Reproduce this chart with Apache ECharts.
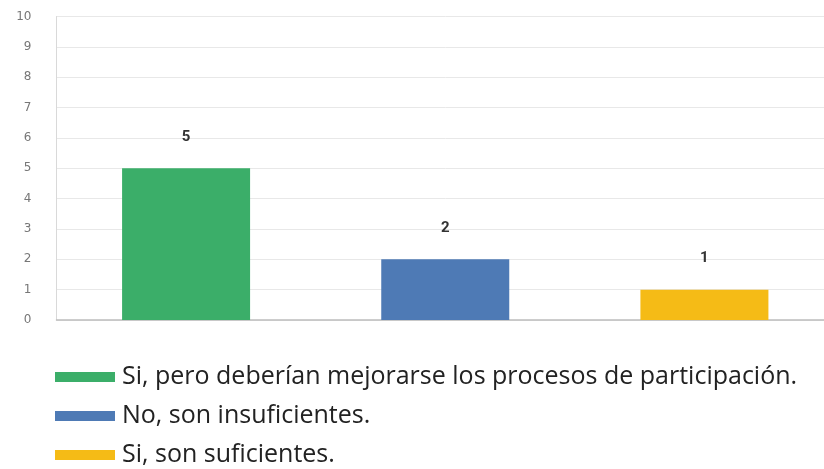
<!DOCTYPE html>
<html>
<head>
<meta charset="utf-8">
<script src="https://cdn.jsdelivr.net/npm/echarts@6/dist/echarts.min.js"></script>
<style>
  html, body { margin: 0; padding: 0; background: #fff; overflow: hidden; }
  /* el gráfico original está recortado por la derecha */
  #chart { width: 834px; height: 469px; }
</style>
</head>
<body>
<div id="chart"></div>
<script>
// datos del gráfico
const categories = ["Si, pero deberían mejorarse los procesos de participación.", "No, son insuficientes.", "Si, son suficientes."];
const values = [5, 2, 1];
const colors = ["#3bae69", "#4e7ab5", "#f5bb16"];
const yTicks = [0, 1, 2, 3, 4, 5, 6, 7, 8, 9, 10];

let chart = echarts.init(document.getElementById("chart"));

// una serie por respuesta, apiladas para que cada barra quede centrada en su categoría
let series = categories.map(function(name, i) {
  return {
    name: name,
    type: "bar",
    stack: "total",
    barWidth: 128,
    itemStyle: { color: colors[i] },
    label: {
      show: true,
      position: "top",
      distance: 24,
      color: "#333",
      fontSize: 15,
      fontWeight: "bold",
      fontFamily: "Roboto"
    },
    data: values.map(function(v, j) { return j === i ? v : "-"; })
  };
});

let option = {
  animation: false,
  grid: {
    left: 56.5,
    top: 16.5,
    right: 0,
    bottom: 149
  },
  legend: {
    orient: "vertical",
    left: 55,
    top: 364,
    padding: 0,
    itemWidth: 60,
    itemHeight: 10,
    itemGap: 13,
    icon: "rect",
    textStyle: {
      fontSize: 25,
      lineHeight: 26,
      color: "#222",
      fontFamily: "Open Sans",
      padding: [0, 0, 0, 2]
    },
    data: categories
  },
  xAxis: {
    type: "category",
    data: categories,
    axisLine: { lineStyle: { color: "#bdbdbd", width: 1.5 } },
    axisTick: { show: false },
    axisLabel: { show: false }
  },
  yAxis: {
    type: "value",
    min: yTicks[0],
    max: yTicks[yTicks.length - 1],
    interval: 1,
    axisLine: { show: true, lineStyle: { color: "#d9d9d9" } },
    axisTick: { show: false },
    axisLabel: {
      color: "#777",
      fontSize: 12,
      margin: 25,
      fontFamily: "DejaVu Sans"
    },
    splitLine: { lineStyle: { color: "#e8e8e8" } }
  },
  series: series
};

chart.setOption(option);
window.addEventListener("resize", function() {
  chart.resize();
});
</script>
</body>
</html>
